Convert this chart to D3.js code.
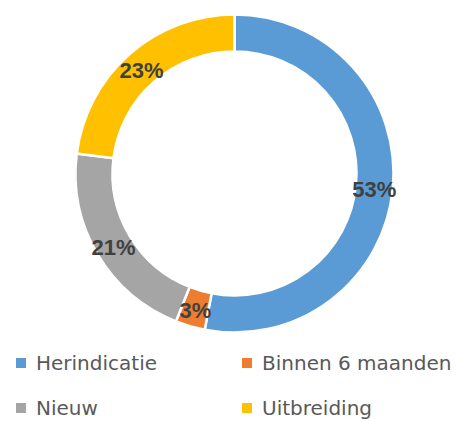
<!DOCTYPE html>
<html>
<head>
<meta charset="utf-8">
<script src="https://cdn.jsdelivr.net/npm/d3@7"></script>
<style>
  body { margin: 0; background: #fff; }
</style>
</head>
<body>
<div id="chart-area"></div>
<script>
var categories = ["Herindicatie", "Binnen 6 maanden", "Nieuw", "Uitbreiding"];
var values = [53, 3, 21, 23];
var colors = ["#5B9BD5", "#ED7D31", "#A5A5A5", "#FFC000"];

var w = 463, h = 421;
var cx = 234.5, cy = 173.5;
var outer = 159, inner = 122;

var svg = d3.select("#chart-area").append("svg")
    .attr("width", w)
    .attr("height", h);

var data = categories.map((c, i) => ({ name: c, value: values[i], color: colors[i] }));

var pie = d3.pie()
    .value((d) => d.value)
    .sort(null);

var arc = d3.arc()
    .innerRadius(inner)
    .outerRadius(outer);

var group = svg.append("g")
    .attr("transform", "translate(" + cx + ", " + cy + ")");

var slices = group.selectAll("path")
    .data(pie(data));

slices.enter()
    .append("path")
        .attr("d", arc)
        .attr("fill", (d) => d.data.color)
        .attr("stroke", "#fff")
        .attr("stroke-width", 2.5);

group.selectAll("text.label")
    .data(pie(data))
    .enter()
    .append("text")
        .attr("class", "label")
        .attr("x", (d) => arc.centroid(d)[0])
        .attr("y", (d) => arc.centroid(d)[1])
        .attr("dy", "0.45em")
        .attr("text-anchor", "middle")
        .attr("font-family", "Liberation Sans, Arial, sans-serif")
        .attr("font-weight", "bold")
        .attr("font-size", "22px")
        .attr("fill", "#404040")
        .text((d) => d.data.value + "%");

// legend, 2 columns
var legend = svg.append("g");
var colX = [16, 242];
var rowY = [370, 415];

var items = legend.selectAll("g")
    .data(data)
    .enter()
    .append("g")
        .attr("transform", (d, i) => "translate(" + colX[i % 2] + ", " + rowY[Math.floor(i / 2)] + ")");

items.append("rect")
    .attr("x", 0)
    .attr("y", -12)
    .attr("width", 10)
    .attr("height", 10)
    .attr("fill", (d) => d.color);

items.append("text")
    .attr("x", 20)
    .attr("y", 0)
    .attr("font-family", "DejaVu Sans, sans-serif")
    .attr("font-size", "20px")
    .attr("fill", "#595959")
    .text((d) => d.name);
</script>
</body>
</html>
